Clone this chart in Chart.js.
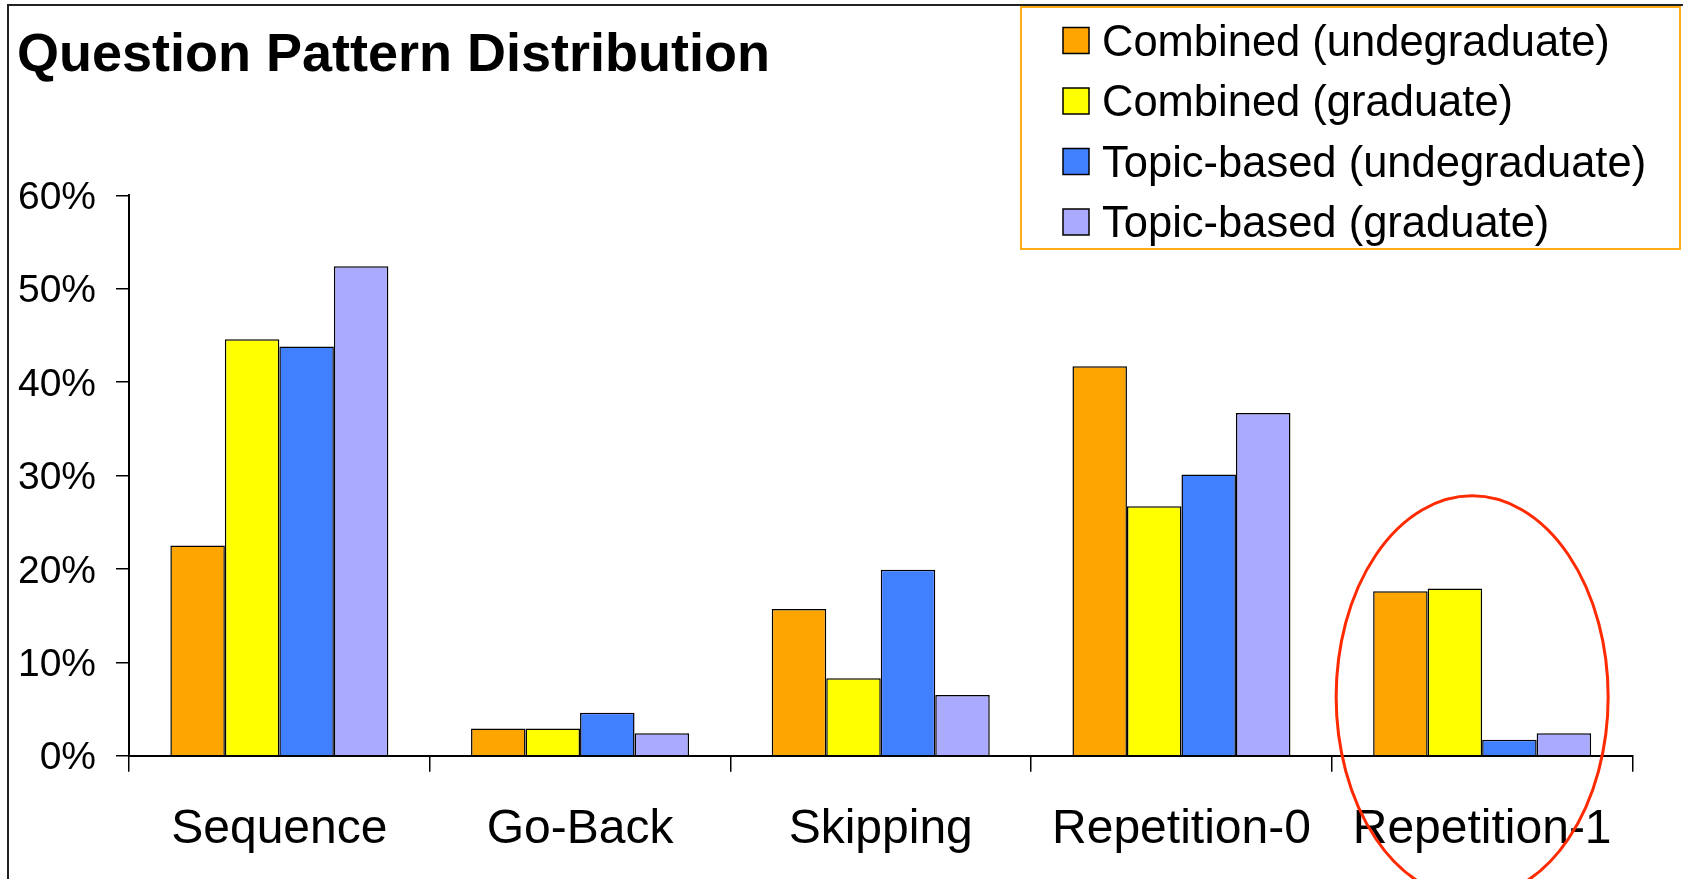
<!DOCTYPE html>
<html>
<head>
<meta charset="utf-8">
<title>Question Pattern Distribution</title>
<script src="https://cdn.jsdelivr.net/npm/chart.js@4.4.1/dist/chart.umd.min.js"></script>
<style>
  html, body { margin: 0; padding: 0; background: #fff; }
  #wrap { position: relative; width: 1683px; height: 879px; }
</style>
</head>
<body>
<div id="wrap"><canvas id="grafico" width="1683" height="879"></canvas></div>
<script>
const categories = ["Sequence", "Go-Back", "Skipping", "Repetition-0", "Repetition-1"];
const seriesNames = [
  "Combined (undegraduate)",
  "Combined (graduate)",
  "Topic-based (undegraduate)",
  "Topic-based (graduate)",
];
const combinedUndergrad = [22.5, 2.9, 15.7, 41.7, 17.6];
const combinedGrad = [44.6, 2.9, 8.3, 26.7, 17.9];
const topicUndergrad = [43.8, 4.6, 19.9, 30.1, 1.7];
const topicGrad = [52.4, 2.4, 6.5, 36.7, 2.4];
const yMax = 60;
const yStep = 10;

const colors = ["#ffa500", "#ffff00", "#4080ff", "#aaaaff"];
const fontFamily = '"Liberation Sans", Arial, sans-serif';

// outer frame: a line along the top and the left side
const framePlugin = {
  id: "frame",
  beforeDraw(chart) {
    const ctx = chart.ctx;
    ctx.save();
    ctx.strokeStyle = "#222";
    ctx.lineWidth = 2;
    ctx.beginPath();
    ctx.moveTo(chart.width, 5);
    ctx.lineTo(8, 5);
    ctx.lineTo(8, chart.height);
    ctx.stroke();
    ctx.restore();
  },
};

// boxed legend in the top right corner
const boxLegend = {
  id: "boxLegend",
  afterDraw(chart) {
    const ctx = chart.ctx;
    const box = { left: 1021, top: 7, right: 1680, bottom: 249 };
    ctx.save();
    ctx.fillStyle = "#fff";
    ctx.fillRect(box.left, box.top, box.right - box.left, box.bottom - box.top);
    ctx.strokeStyle = "#ffae1a";
    ctx.lineWidth = 2;
    ctx.strokeRect(box.left, box.top, box.right - box.left, box.bottom - box.top);

    ctx.font = "43.5px " + fontFamily;
    ctx.textBaseline = "middle";
    chart.data.datasets.forEach((ds, i) => {
      const cy = 40.5 + i * 60.5;
      ctx.fillStyle = ds.backgroundColor;
      ctx.fillRect(1063, cy - 13, 26, 26);
      ctx.strokeStyle = "#000";
      ctx.lineWidth = 1.5;
      ctx.strokeRect(1063, cy - 13, 26, 26);
      ctx.fillStyle = "#000";
      ctx.fillText(ds.label, 1102, cy + 3);
    });
    ctx.restore();
  },
};

// red ring around the last category
const highlight = {
  id: "highlight",
  afterDraw(chart) {
    const ctx = chart.ctx;
    const x = chart.scales.x;
    const y = chart.scales.y;
    const cx = x.getPixelForValue(4) - 10;
    const cy = y.getPixelForValue(6.3);
    ctx.save();
    ctx.strokeStyle = "#ff2a00";
    ctx.lineWidth = 3;
    ctx.beginPath();
    ctx.ellipse(cx, cy, 136, 201, 0, 0, Math.PI * 2);
    ctx.stroke();
    ctx.restore();
  },
};

const datasets = [combinedUndergrad, combinedGrad, topicUndergrad, topicGrad].map(
  (values, i) => ({
    label: seriesNames[i],
    data: values,
    backgroundColor: colors[i],
    borderColor: "#000",
    borderWidth: 1.5,
    barPercentage: 1,
    categoryPercentage: 0.725,
  })
);

new Chart(document.getElementById("grafico"), {
  type: "bar",
  data: { labels: categories, datasets: datasets },
  options: {
    responsive: false,
    animation: false,
    devicePixelRatio: 1,
    layout: { padding: { left: 17, right: 50.5, top: 0, bottom: 0 } },
    plugins: {
      legend: { display: false },
      tooltip: { enabled: false },
      title: {
        display: true,
        text: "Question Pattern Distribution",
        align: "start",
        color: "#000",
        font: { family: fontFamily, size: 54, weight: "bold", lineHeight: 1.2 },
        padding: { top: 24, bottom: 106.5 },
      },
    },
    scales: {
      x: {
        grid: {
          offset: true,
          drawOnChartArea: false,
          drawTicks: true,
          tickLength: 16,
          color: "#000",
          lineWidth: 1.5,
        },
        border: { display: true, color: "#000", width: 2 },
        ticks: {
          color: "#000",
          padding: 29,
          font: { family: fontFamily, size: 48 },
          maxRotation: 0,
        },
        afterFit(scale) {
          scale.height = 123.3;
        },
      },
      y: {
        min: 0,
        max: yMax,
        grid: {
          drawOnChartArea: false,
          drawTicks: true,
          tickLength: 13,
          color: "#000",
          lineWidth: 1.5,
        },
        border: { display: true, color: "#000", width: 2 },
        ticks: {
          stepSize: yStep,
          color: "#000",
          padding: 20,
          labelOffset: 3,
          font: { family: fontFamily, size: 39 },
          callback: (v) => v + "%",
        },
        afterFit(scale) {
          scale.width = 112;
        },
      },
    },
  },
  plugins: [framePlugin, boxLegend, highlight],
});
</script>
</body>
</html>
